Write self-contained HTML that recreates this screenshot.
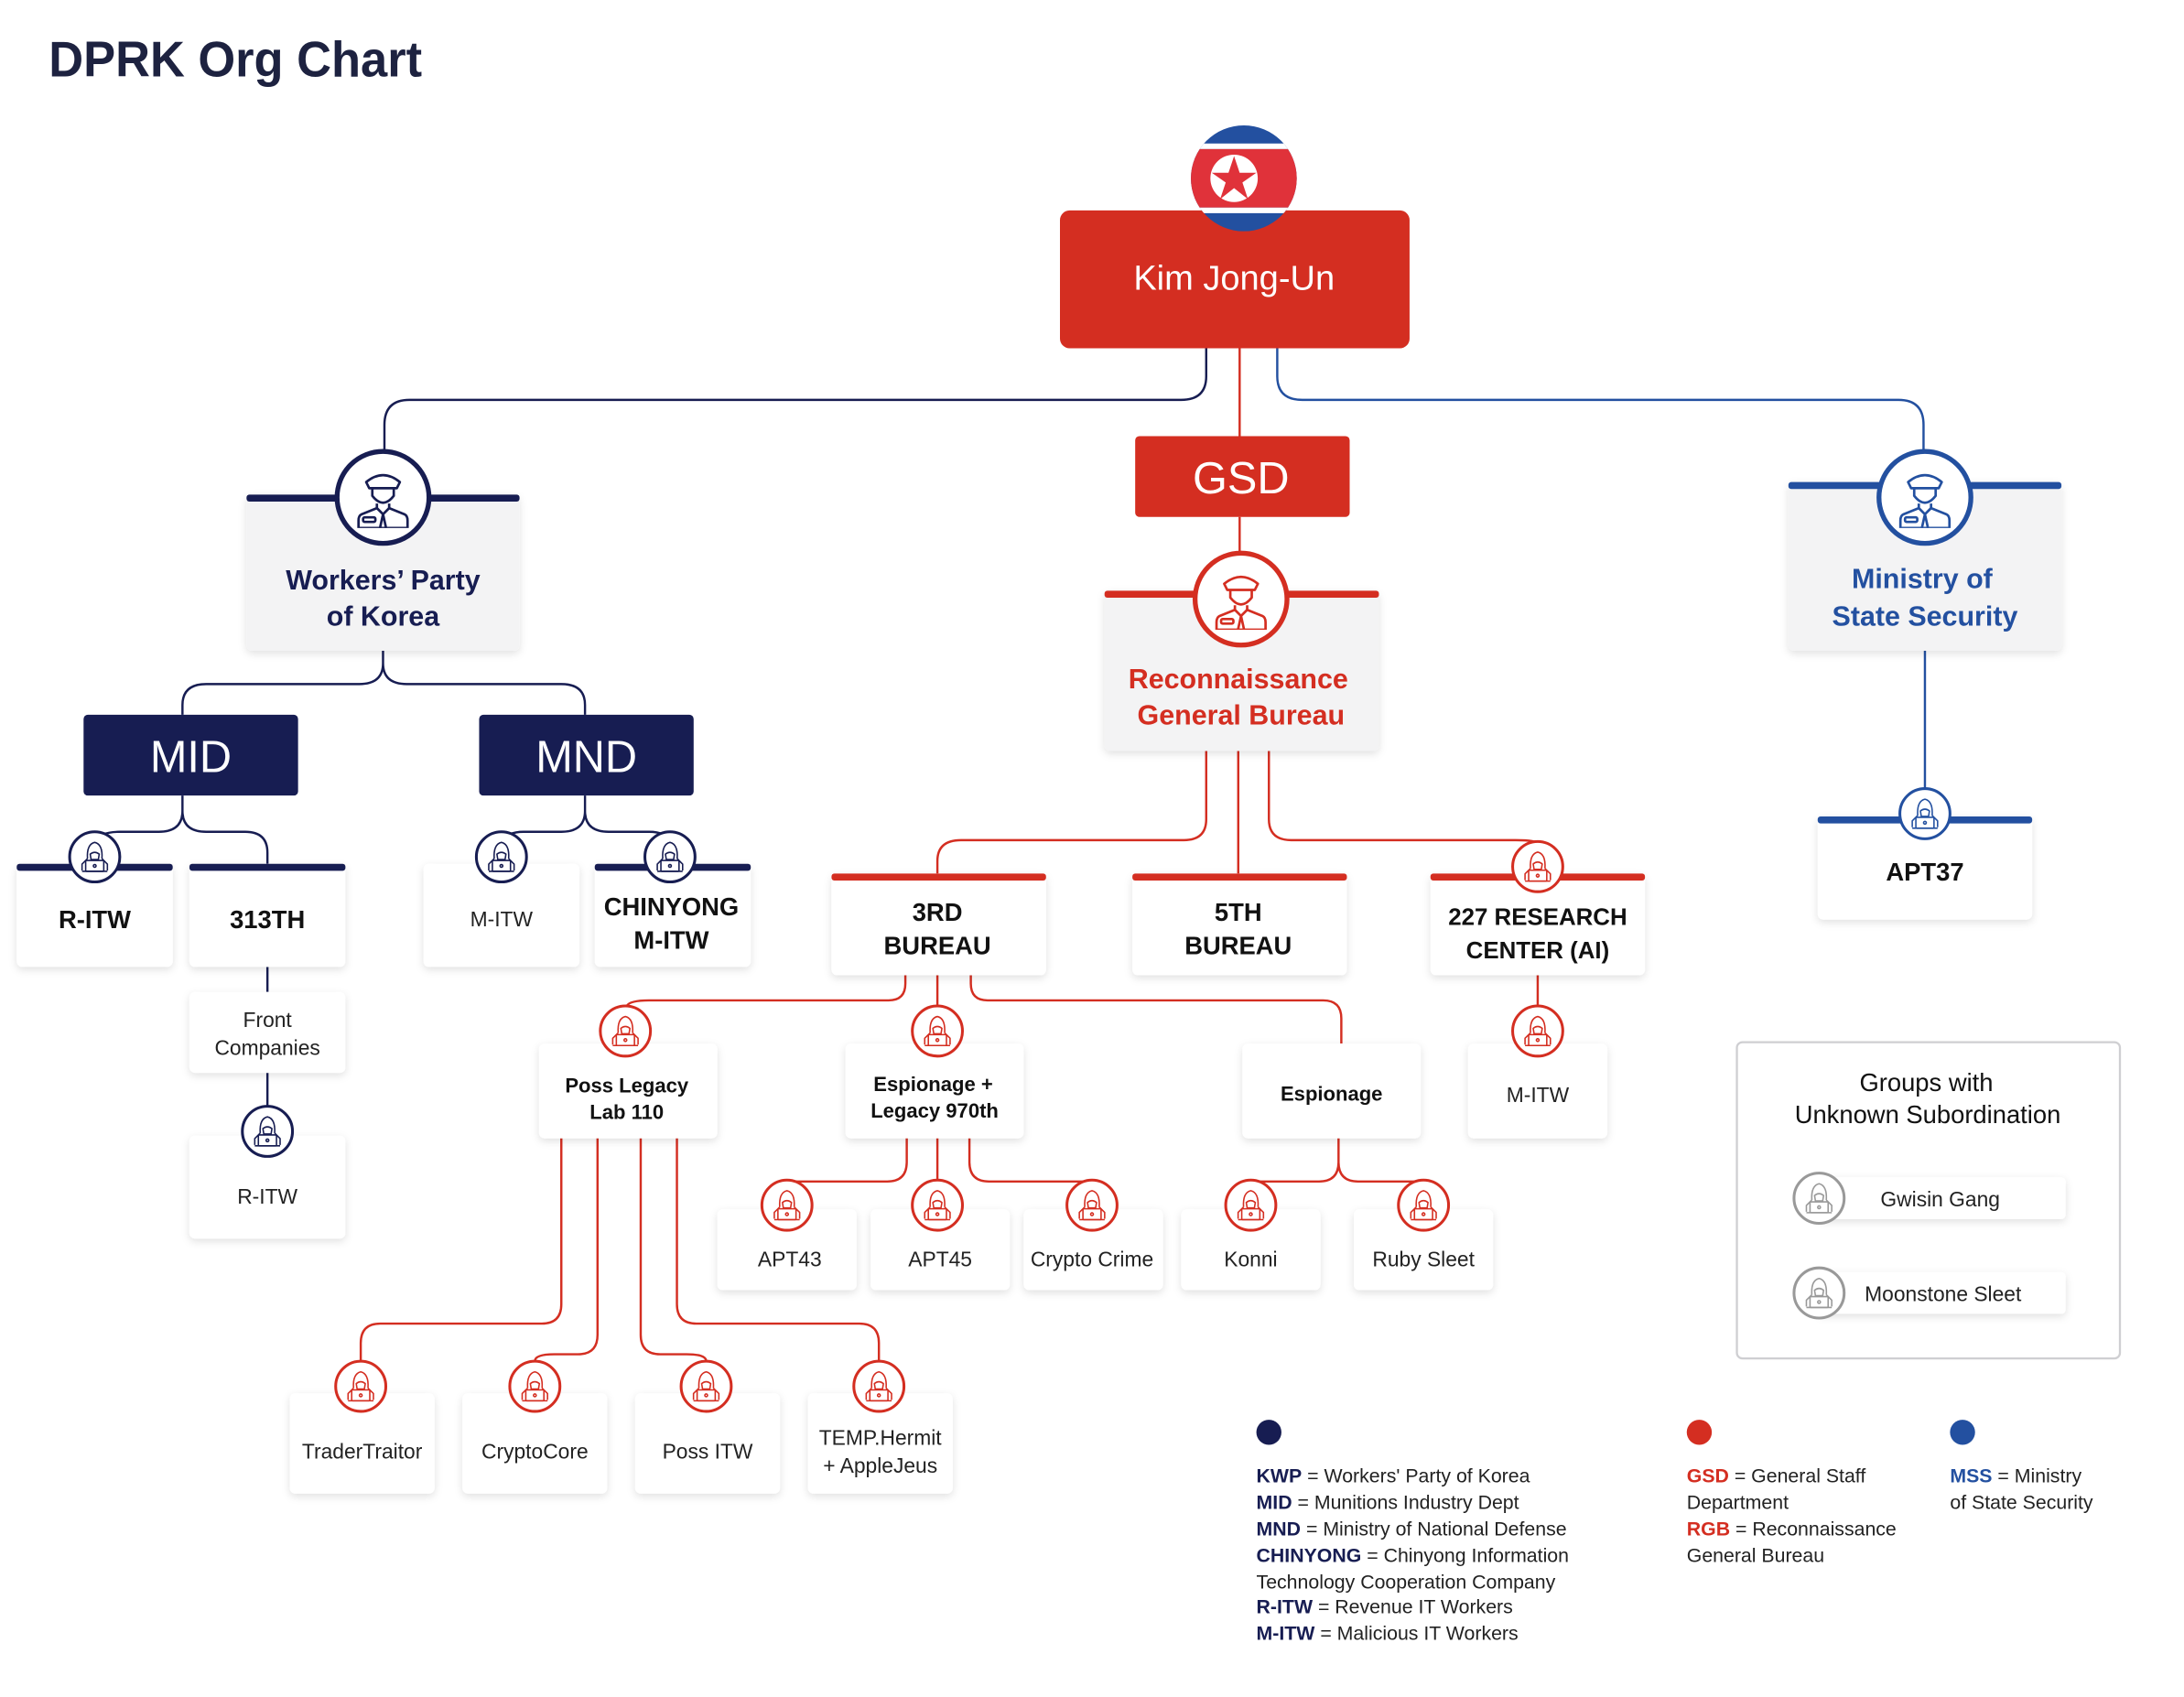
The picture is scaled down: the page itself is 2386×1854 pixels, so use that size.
<!DOCTYPE html>
<html><head><meta charset="utf-8">
<style>
html,body{margin:0;padding:0;background:#fff;}
svg{display:block;}
text{font-family:"Liberation Sans",sans-serif;}
</style></head>
<body>
<svg width="2386" height="1854" viewBox="0 0 1568 1218" preserveAspectRatio="none" xmlns="http://www.w3.org/2000/svg">
<defs>
<filter id="sh" x="-20%" y="-20%" width="140%" height="150%">
<feDropShadow dx="0" dy="2" stdDeviation="3" flood-color="#000" flood-opacity="0.12"/>
</filter>
<symbol id="off" viewBox="-20 -20 40 40">
<g fill="none" stroke="currentColor" stroke-width="1.6" stroke-linejoin="round">
<path d="M-11,-10 Q0,-19 11,-10 L9,-6 L-9,-6 Z"/>
<path d="M-7,-6 L-7,-1 Q0,8 7,-1 L7,-6"/>
<path d="M-4,4 L-4,7 L-14,11 Q-16,12 -16,15 L-16,20 L16,20 L16,15 Q16,12 14,11 L4,7 L4,4"/>
<path d="M-4,7 L0,11 L4,7 M0,11 L-2,20 M0,11 L2,20"/>
<rect x="-13" y="13" width="8" height="3" rx="1"/>
</g>
</symbol>
<symbol id="hk" viewBox="-20 -20 40 40">
<g fill="none" stroke="currentColor" stroke-width="1.6" stroke-linejoin="round">
<path d="M-8,2 Q-9,-14 0,-16 Q9,-14 8,2"/>
<path d="M-5,-3 Q0,-7 5,-3 L4,3 L-4,3 Z"/>
<path d="M-8,2 L-14,8 L-14,15 M8,2 L14,8 L14,15"/>
<rect x="-10" y="4" width="20" height="12" rx="1"/>
<path d="M-14,16 L14,16"/>
<circle cx="0" cy="10" r="1.5"/>
</g>
</symbol>
</defs>

<text x="35" y="55" font-size="36" font-weight="bold" fill="#1d2240" textLength="268" lengthAdjust="spacingAndGlyphs">DPRK Org Chart</text>

<!-- connectors -->
<g fill="none" stroke-width="1.6">
<path d="M866,250 V270 Q866,287 848,287 H294 Q276,287 276,305 V323" stroke="#171d52"/>
<path d="M917,250 V270 Q917,287 935,287 H1363 Q1381,287 1381,305 V323" stroke="#2350a0"/>
<path d="M890,250 V313 M890,371 V396" stroke="#d42e21"/>
<path d="M1382,467 V566" stroke="#2350a0"/>
<path d="M275,467 V476 Q275,491 258,491 H148 Q131,491 131,506 V513 M275,476 Q275,491 292,491 H403 Q420,491 420,506 V513" stroke="#171d52"/>
<path d="M131,571 V582 Q131,597 114,597 H86 Q72,597 68,604 M131,582 Q131,597 148,597 H176 Q192,597 192,612 V620" stroke="#171d52"/>
<path d="M420,571 V582 Q420,597 403,597 H376 Q364,597 360,604 M420,582 Q420,597 437,597 H466 Q478,597 481,604" stroke="#171d52"/>
<path d="M192,694 V712 M192,770 V795" stroke="#171d52"/>
<path d="M866,539 V588 Q866,603 850,603 H690 Q673,603 673,618 V627 M889,539 V627 M911,539 V588 Q911,603 927,603 H1088 Q1104,603 1104,606" stroke="#d42e21"/>
<path d="M1104,700 V722" stroke="#d42e21"/>
<path d="M650,700 V706 Q650,718 638,718 H466 Q452,718 450,722 M673,700 V722 M697,700 V706 Q697,718 709,718 H950 Q963,718 963,731 V749" stroke="#d42e21"/>
<path d="M651,817 V834 Q651,848 637,848 H580 Q566,848 565,848 M673,817 V847 M696,817 V834 Q696,848 710,848 H770 Q784,848 784,848" stroke="#d42e21"/>
<path d="M961,817 V834 Q961,848 947,848 H912 Q898,848 898,848 M961,834 Q961,848 975,848 H1008 Q1022,848 1022,848" stroke="#d42e21"/>
<path d="M403,817 V936 Q403,950 389,950 H273 Q259,950 259,964 V977 M429,817 V958 Q429,972 415,972 H398 Q384,972 384,977 M460,817 V958 Q460,972 474,972 H493 Q507,972 507,977 M486,817 V936 Q486,950 500,950 H617 Q631,950 631,964 V977" stroke="#d42e21"/>
</g>

<!-- Kim -->
<rect x="761" y="151" width="251" height="99" rx="7" fill="#d42e21"/>
<g>
<clipPath id="fc"><circle cx="893" cy="128" r="38"/></clipPath>
<g clip-path="url(#fc)">
<rect x="850" y="88" width="90" height="80" fill="#2350a0"/>
<rect x="850" y="103" width="90" height="4" fill="#fff"/>
<rect x="850" y="107" width="90" height="42" fill="#e0323a"/>
<rect x="850" y="149" width="90" height="4" fill="#fff"/>
</g>
<circle cx="886" cy="128" r="17" fill="#fff"/>
<polygon points="886,112 890,124 902,124 892,131 896,143 886,135 876,143 880,131 870,124 882,124" fill="#e0323a"/>
</g>
<text x="886" y="208" font-size="25" fill="#fff" text-anchor="middle">Kim Jong-Un</text>

<rect x="815" y="313" width="154" height="58" rx="3" fill="#d42e21"/>
<text x="891" y="354" font-size="32" fill="#fff" text-anchor="middle">GSD</text>

<!-- big cards -->
<g filter="url(#sh)">
<rect x="177" y="355" width="196" height="112" rx="4" fill="#f3f3f4"/>
<rect x="793" y="424" width="197" height="115" rx="4" fill="#f3f3f4"/>
<rect x="1284" y="346" width="196" height="121" rx="4" fill="#f3f3f4"/>
</g>
<rect x="177" y="355" width="196" height="5" rx="2" fill="#171d52"/>
<rect x="793" y="424" width="197" height="5" rx="2" fill="#d42e21"/>
<rect x="1284" y="346" width="196" height="5" rx="2" fill="#2350a0"/>

<circle cx="275" cy="357" r="33" fill="#fff" stroke="#171d52" stroke-width="3.5"/>
<use href="#off" x="253" y="335" width="44" height="44" color="#171d52"/>
<circle cx="891" cy="430" r="33" fill="#fff" stroke="#d42e21" stroke-width="3.5"/>
<use href="#off" x="869" y="408" width="44" height="44" color="#d42e21"/>
<circle cx="1382" cy="357" r="33" fill="#fff" stroke="#2350a0" stroke-width="3.5"/>
<use href="#off" x="1360" y="335" width="44" height="44" color="#2350a0"/>

<g font-size="20" font-weight="bold" text-anchor="middle">
<text x="275" y="423" fill="#171d52">Workers’ Party</text>
<text x="275" y="449" fill="#171d52">of Korea</text>
<text x="889" y="494" fill="#d42e21">Reconnaissance</text>
<text x="891" y="520" fill="#d42e21">General Bureau</text>
<text x="1380" y="422" fill="#2350a0">Ministry of</text>
<text x="1382" y="449" fill="#2350a0">State Security</text>
</g>

<rect x="60" y="513" width="154" height="58" rx="3" fill="#171d52"/>
<text x="137" y="554" font-size="32" fill="#fff" text-anchor="middle">MID</text>
<rect x="344" y="513" width="154" height="58" rx="3" fill="#171d52"/>
<text x="421" y="554" font-size="32" fill="#fff" text-anchor="middle">MND</text>

<!-- small cards -->
<g filter="url(#sh)" fill="#fff">
<rect x="12" y="620" width="112" height="74" rx="4"/>
<rect x="136" y="620" width="112" height="74" rx="4"/>
<rect x="136" y="712" width="112" height="58" rx="4"/>
<rect x="136" y="815" width="112" height="74" rx="4"/>
<rect x="304" y="620" width="112" height="74" rx="4"/>
<rect x="427" y="620" width="112" height="74" rx="4"/>
<rect x="597" y="627" width="154" height="73" rx="4"/>
<rect x="813" y="627" width="154" height="73" rx="4"/>
<rect x="1027" y="627" width="154" height="73" rx="4"/>
<rect x="1305" y="586" width="154" height="74" rx="4"/>
<rect x="1054" y="749" width="100" height="68" rx="4"/>
<rect x="387" y="749" width="128" height="68" rx="4"/>
<rect x="607" y="749" width="128" height="68" rx="4"/>
<rect x="892" y="749" width="128" height="68" rx="4"/>
<rect x="515" y="868" width="100" height="58" rx="4"/>
<rect x="625" y="868" width="100" height="58" rx="4"/>
<rect x="735" y="868" width="100" height="58" rx="4"/>
<rect x="848" y="868" width="100" height="58" rx="4"/>
<rect x="972" y="868" width="100" height="58" rx="4"/>
<rect x="208" y="1000" width="104" height="72" rx="4"/>
<rect x="332" y="1000" width="104" height="72" rx="4"/>
<rect x="456" y="1000" width="104" height="72" rx="4"/>
<rect x="580" y="1000" width="104" height="72" rx="4"/>
</g>
<g>
<rect x="12" y="620" width="112" height="5" rx="2" fill="#171d52"/>
<rect x="136" y="620" width="112" height="5" rx="2" fill="#171d52"/>
<rect x="427" y="620" width="112" height="5" rx="2" fill="#171d52"/>
<rect x="597" y="627" width="154" height="5" rx="2" fill="#d42e21"/>
<rect x="813" y="627" width="154" height="5" rx="2" fill="#d42e21"/>
<rect x="1027" y="627" width="154" height="5" rx="2" fill="#d42e21"/>
<rect x="1305" y="586" width="154" height="5" rx="2" fill="#2350a0"/>
</g>

<!-- hacker icons -->
<g fill="#fff" stroke-width="2">
<g stroke="#171d52">
<circle cx="68" cy="615" r="18"/><circle cx="192" cy="812" r="18"/>
<circle cx="360" cy="615" r="18"/><circle cx="481" cy="615" r="18"/>
</g>
<g stroke="#2350a0"><circle cx="1382" cy="584" r="18"/></g>
<g stroke="#d42e21">
<circle cx="1104" cy="622" r="18"/><circle cx="1104" cy="740" r="18"/>
<circle cx="449" cy="740" r="18"/><circle cx="673" cy="740" r="18"/>
<circle cx="565" cy="865" r="18"/><circle cx="673" cy="865" r="18"/><circle cx="784" cy="865" r="18"/>
<circle cx="898" cy="865" r="18"/><circle cx="1022" cy="865" r="18"/>
<circle cx="259" cy="995" r="18"/><circle cx="384" cy="995" r="18"/><circle cx="507" cy="995" r="18"/><circle cx="631" cy="995" r="18"/>
</g>
</g>
<g>
<use href="#hk" x="55" y="602" width="26" height="26" color="#171d52"/>
<use href="#hk" x="179" y="799" width="26" height="26" color="#171d52"/>
<use href="#hk" x="347" y="602" width="26" height="26" color="#171d52"/>
<use href="#hk" x="468" y="602" width="26" height="26" color="#171d52"/>
<use href="#hk" x="1369" y="571" width="26" height="26" color="#2350a0"/>
<use href="#hk" x="1091" y="609" width="26" height="26" color="#d42e21"/>
<use href="#hk" x="1091" y="727" width="26" height="26" color="#d42e21"/>
<use href="#hk" x="436" y="727" width="26" height="26" color="#d42e21"/>
<use href="#hk" x="660" y="727" width="26" height="26" color="#d42e21"/>
<use href="#hk" x="552" y="852" width="26" height="26" color="#d42e21"/>
<use href="#hk" x="660" y="852" width="26" height="26" color="#d42e21"/>
<use href="#hk" x="771" y="852" width="26" height="26" color="#d42e21"/>
<use href="#hk" x="885" y="852" width="26" height="26" color="#d42e21"/>
<use href="#hk" x="1009" y="852" width="26" height="26" color="#d42e21"/>
<use href="#hk" x="246" y="982" width="26" height="26" color="#d42e21"/>
<use href="#hk" x="371" y="982" width="26" height="26" color="#d42e21"/>
<use href="#hk" x="494" y="982" width="26" height="26" color="#d42e21"/>
<use href="#hk" x="618" y="982" width="26" height="26" color="#d42e21"/>
</g>

<!-- card labels -->
<g font-size="18" font-weight="bold" fill="#111" text-anchor="middle">
<text x="68" y="666">R-ITW</text>
<text x="192" y="666">313TH</text>
<text x="482" y="657">CHINYONG</text>
<text x="482" y="681">M-ITW</text>
<text x="673" y="661">3RD</text>
<text x="673" y="685">BUREAU</text>
<text x="889" y="661">5TH</text>
<text x="889" y="685">BUREAU</text>
<text x="1104" y="664" font-size="17">227 RESEARCH</text>
<text x="1104" y="688" font-size="17">CENTER (AI)</text>
<text x="1382" y="632">APT37</text>
</g>
<g font-size="14.5" font-weight="bold" fill="#111" text-anchor="middle">
<text x="450" y="784">Poss Legacy</text>
<text x="450" y="803">Lab 110</text>
<text x="670" y="783">Espionage +</text>
<text x="671" y="802">Legacy 970th</text>
<text x="956" y="790">Espionage</text>
</g>
<g font-size="15" fill="#222" text-anchor="middle">
<text x="192" y="737">Front</text>
<text x="192" y="757">Companies</text>
<text x="192" y="864">R-ITW</text>
<text x="360" y="665">M-ITW</text>
<text x="1104" y="791">M-ITW</text>
<text x="567" y="909">APT43</text>
<text x="675" y="909">APT45</text>
<text x="784" y="909">Crypto Crime</text>
<text x="898" y="909">Konni</text>
<text x="1022" y="909">Ruby Sleet</text>
<text x="260" y="1047">TraderTraitor</text>
<text x="384" y="1047">CryptoCore</text>
<text x="508" y="1047">Poss ITW</text>
<text x="632" y="1037">TEMP.Hermit</text>
<text x="632" y="1057">+ AppleJeus</text>
</g>

<!-- unknown subordination -->
<rect x="1247" y="748" width="275" height="227" rx="4" fill="#fff" stroke="#cfcfd2" stroke-width="1.5"/>
<text x="1383" y="783" font-size="18" text-anchor="middle" fill="#111">Groups with</text>
<text x="1384" y="806" font-size="18" text-anchor="middle" fill="#111">Unknown Subordination</text>
<g filter="url(#sh)" fill="#fff">
<rect x="1306" y="845" width="177" height="30" rx="3"/>
<rect x="1306" y="913" width="177" height="30" rx="3"/>
</g>
<circle cx="1306" cy="860" r="18" fill="#fff" stroke="#999" stroke-width="2"/>
<circle cx="1306" cy="928" r="18" fill="#fff" stroke="#999" stroke-width="2"/>
<use href="#hk" x="1293" y="847" width="26" height="26" color="#999"/>
<use href="#hk" x="1293" y="915" width="26" height="26" color="#999"/>
<text x="1393" y="866" font-size="15" text-anchor="middle" fill="#222">Gwisin Gang</text>
<text x="1395" y="934" font-size="15" text-anchor="middle" fill="#222">Moonstone Sleet</text>

<!-- legend -->
<circle cx="911" cy="1028" r="9" fill="#171d52"/>
<circle cx="1220" cy="1028" r="9" fill="#d42e21"/>
<circle cx="1409" cy="1028" r="9" fill="#2350a0"/>
<g font-size="14" fill="#222">
<text x="902" y="1064"><tspan font-weight="bold" fill="#171d52">KWP</tspan> = Workers' Party of Korea</text>
<text x="902" y="1083"><tspan font-weight="bold" fill="#171d52">MID</tspan> = Munitions Industry Dept</text>
<text x="902" y="1102"><tspan font-weight="bold" fill="#171d52">MND</tspan> = Ministry of National Defense</text>
<text x="902" y="1121"><tspan font-weight="bold" fill="#171d52">CHINYONG</tspan> = Chinyong Information</text>
<text x="902" y="1140">Technology Cooperation Company</text>
<text x="902" y="1158"><tspan font-weight="bold" fill="#171d52">R-ITW</tspan> = Revenue IT Workers</text>
<text x="902" y="1177"><tspan font-weight="bold" fill="#171d52">M-ITW</tspan> = Malicious IT Workers</text>
<text x="1211" y="1064"><tspan font-weight="bold" fill="#d42e21">GSD</tspan> = General Staff</text>
<text x="1211" y="1083">Department</text>
<text x="1211" y="1102"><tspan font-weight="bold" fill="#d42e21">RGB</tspan> =  Reconnaissance</text>
<text x="1211" y="1121">General Bureau</text>
<text x="1400" y="1064"><tspan font-weight="bold" fill="#2350a0">MSS</tspan> = Ministry</text>
<text x="1400" y="1083">of State Security</text>
</g>
</svg>
</body></html>
